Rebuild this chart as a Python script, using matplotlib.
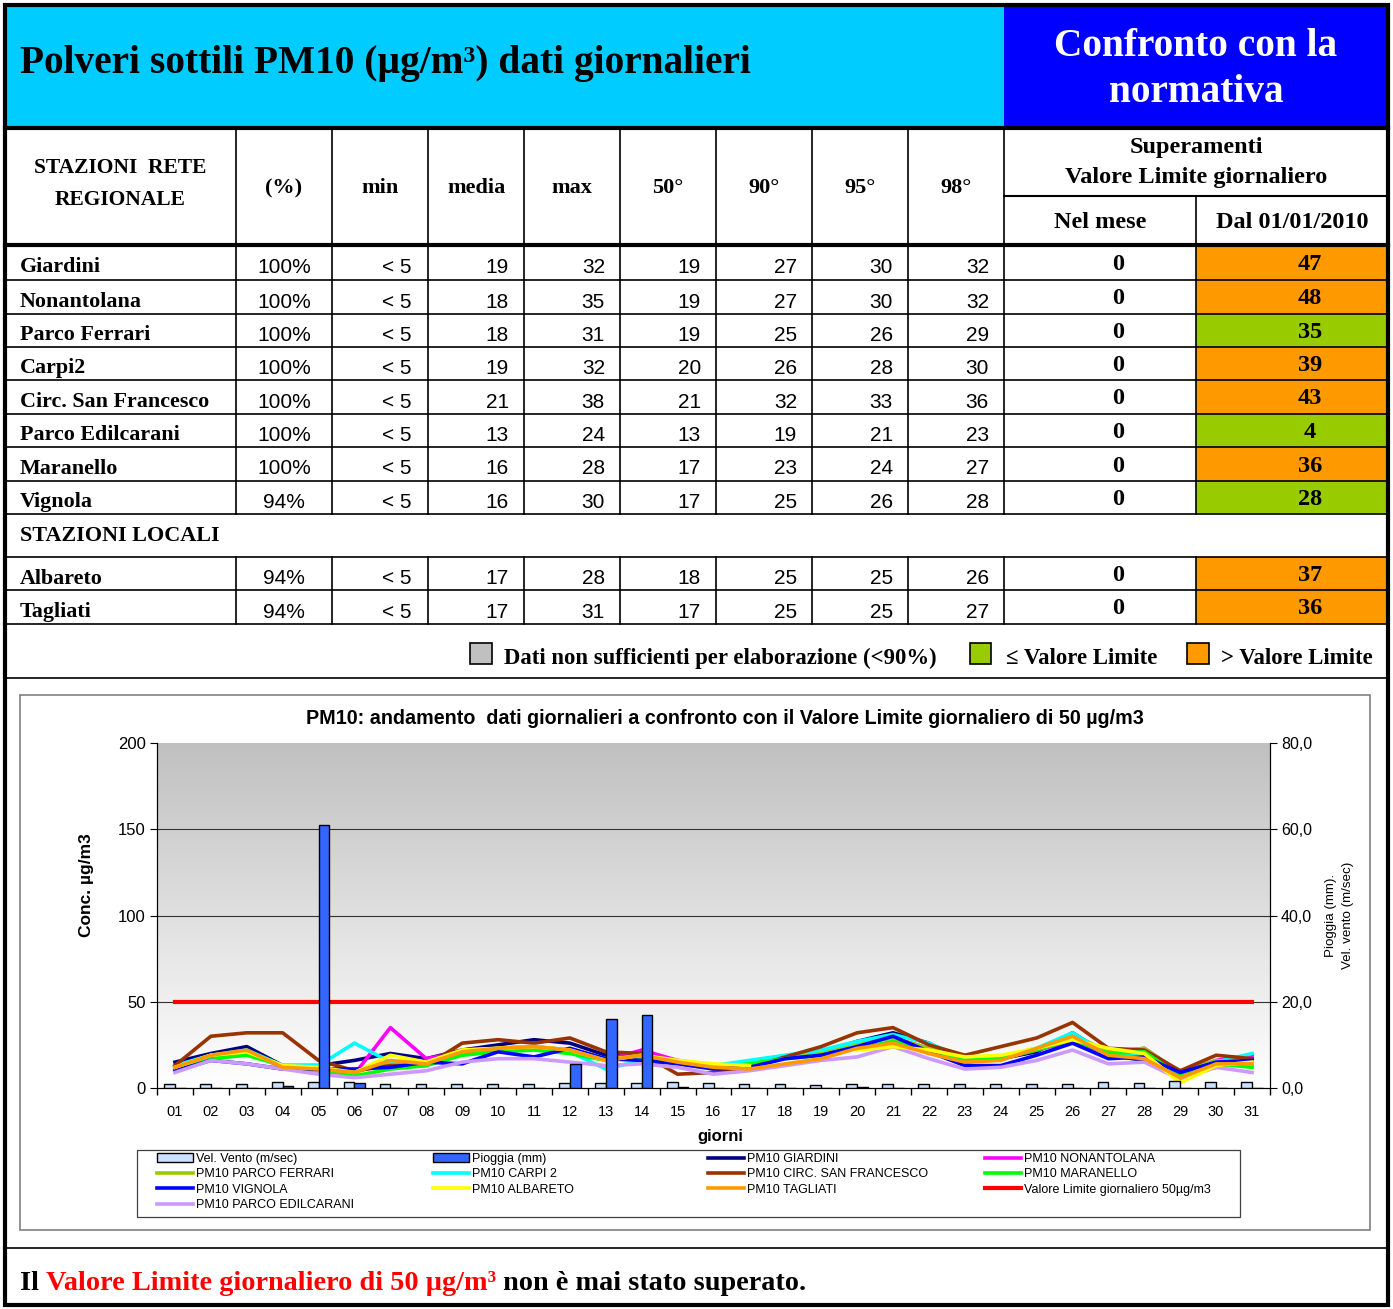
import numpy as np
import matplotlib
matplotlib.use('Agg')
import matplotlib.pyplot as plt
from matplotlib.patches import Rectangle, Patch
from matplotlib.lines import Line2D
from matplotlib.colors import LinearSegmentedColormap

W, H = 1393, 1309
SERIF = ['Liberation Serif', 'DejaVu Serif']
SANS = ['Liberation Sans', 'DejaVu Sans']
plt.rcParams['font.family'] = SANS

# ---------------- table data ----------------
stations_regional = ['Giardini', 'Nonantolana', 'Parco Ferrari', 'Carpi2',
                     'Circ. San Francesco', 'Parco Edilcarani', 'Maranello', 'Vignola']
stations_local = ['Albareto', 'Tagliati']
pct = ['100%', '100%', '100%', '100%', '100%', '100%', '100%', '94%', '94%', '94%']
min_v = ['< 5', '< 5', '< 5', '< 5', '< 5', '< 5', '< 5', '< 5', '< 5', '< 5']
media = [19, 18, 18, 19, 21, 13, 16, 16, 17, 17]
max_v = [32, 35, 31, 32, 38, 24, 28, 30, 28, 31]
p50 = [19, 19, 19, 20, 21, 13, 17, 17, 18, 17]
p90 = [27, 27, 25, 26, 32, 19, 23, 25, 25, 25]
p95 = [30, 30, 26, 28, 33, 21, 24, 26, 25, 25]
p98 = [32, 32, 29, 30, 36, 23, 27, 28, 26, 27]
nel_mese = [0, 0, 0, 0, 0, 0, 0, 0, 0, 0]
dal_2010 = [47, 48, 35, 39, 43, 4, 36, 28, 37, 36]
limit_exceed_allowed = 35
col_headers = ['(%)', 'min', 'media', 'max', '50°', '90°', '95°', '98°']

# ---------------- chart data ----------------
day_labels = ['01', '02', '03', '04', '05', '06', '07', '08', '09', '10', '11', '12', '13', '14', '15',
              '16', '17', '18', '19', '20', '21', '22', '23', '24', '25', '26', '27', '28', '29', '30', '31']
nan = np.nan
giardini = [15, 20, 24, 13, 13, 16, 20, 17, 22, 25, 28, 26, 19, 18, 15, 12, 13, 18, 20, 27, 32, 26, 15, 17, 21, 32, 19, 16, 10, 12, 17]
nonantolana = [12, 18, 21, 12, 10, 8, 35, 17, 21, 23, 24, 22, 16, 22, 16, 13, 14, 18, 21, 27, 29, 23, 16, 17, 22, 27, 20, 23, 9, 16, 19]
parco_ferrari = [12, 18, 21, 13, 11, 9, 15, 14, 22, 23, 24, 22, 17, 18, 15, 13, 15, 18, 21, 26, 29, 23, 17, 18, 23, 31, 21, 23, 9, 16, 14]
carpi2 = [13, 19, 22, 13, 13, 26, 15, 15, 21, 23, 24, 21, 11, 16, 15, 13, 16, 19, 22, 27, 31, 26, 17, 18, 23, 32, 19, 20, 8, 15, 20]
san_francesco = [13, 30, 32, 32, 16, 10, 13, 13, 26, 28, 26, 29, 21, 20, 8, 9, 12, 18, 24, 32, 35, 25, 19, 24, 29, 38, 23, 22, 10, 19, 17]
maranello = [11, 17, 19, 13, 10, 7, 11, 13, 19, 21, 22, 20, 16, 18, 14, 12, 14, 17, 19, 23, 27, 21, 16, 17, 22, 28, 20, 21, 7, 14, 12]
vignola = [10, 16, 14, 11, 11, 11, 12, 15, 14, 21, 18, 23, 17, 16, 14, 11, 12, 17, 19, 24, 30, 21, 13, 13, 19, 26, 17, 18, 9, 15, 16]
albareto = [12, 19, 21, 13, 12, 9, 19, 15, 22, 23, 24, 22, 16, 19, 16, 14, 13, nan, nan, 22, 24, 22, 18, 19, 23, 28, 23, 20, 3, 13, 15]
tagliati = [12, 19, 22, 12, 11, 9, 16, 14, 21, 23, 24, 22, 16, 19, 15, 12, 11, 14, 17, 23, 26, 20, 15, 16, 23, 30, 19, 17, 6, 14, 14]
edilcarani = [9, 16, 14, 11, 8, 6, 8, 10, 15, 17, 17, 15, 13, 14, 12, 8, 10, 13, 16, 18, 24, 17, 11, 12, 16, 22, 14, 15, 5, 12, 9]
limit_value = [50] * 31
wind = [1.0, 1.0, 1.0, 1.3, 1.3, 1.5, 1.0, 1.0, 1.0, 1.0, 1.0, 1.1, 1.2, 1.2, 1.5, 1.1,
        0.9, 0.9, 0.6, 1.0, 0.9, 0.9, 0.9, 0.9, 0.9, 1.0, 1.4, 1.2, 1.7, 1.3, 1.5]
rain = [0, 0, 0, 0.5, 61, 1.2, 0, 0, 0, 0, 0, 5.5, 16, 17, 0.3, 0, 0, 0, 0, 0.3,
        0, 0, 0, 0, 0, 0, 0, 0, 0, 0, 0]

series = [
    ('PM10 GIARDINI', giardini, '#000080'),
    ('PM10 NONANTOLANA', nonantolana, '#FF00FF'),
    ('PM10 PARCO FERRARI', parco_ferrari, '#99CC00'),
    ('PM10 CARPI 2', carpi2, '#00FFFF'),
    ('PM10 CIRC. SAN FRANCESCO', san_francesco, '#993300'),
    ('PM10 MARANELLO', maranello, '#00FF00'),
    ('PM10 VIGNOLA', vignola, '#0000FF'),
    ('PM10 PARCO EDILCARANI', edilcarani, '#CC99FF'),
    ('PM10 ALBARETO', albareto, '#FFFF00'),
    ('PM10 TAGLIATI', tagliati, '#FF9900'),
]

fig = plt.figure(figsize=(W / 100, H / 100), dpi=100)
bg = fig.add_axes([0, 0, 1, 1])
bg.set_xlim(0, W)
bg.set_ylim(H, 0)
bg.axis('off')


def rect(x0, y0, x1, y1, fc, ec='none', lw=0, z=1):
    bg.add_patch(Rectangle((x0, y0), x1 - x0, y1 - y0, facecolor=fc, edgecolor=ec, linewidth=lw, zorder=z))


def hline(y, x0, x1, lw=1.2):
    bg.plot([x0, x1], [y, y], color='black', lw=lw, solid_capstyle='projecting', zorder=4)


def vline(x, y0, y1, lw=1.2):
    bg.plot([x, x], [y0, y1], color='black', lw=lw, solid_capstyle='projecting', zorder=4)


def txt(x, y, s, size, ha='center', va='center', color='black', weight='bold', family=SERIF):
    return bg.text(x, y, s, fontsize=size, ha=ha, va=va, color=color, fontweight=weight, family=family, zorder=5)


# header
rect(5, 5, 1004, 128, '#00CCFF')
rect(1004, 5, 1388, 128, '#0000FF')
txt(20, 63, 'Polveri sottili PM10 (µg/m³) dati giornalieri', 28.4, ha='left')
txt(1196, 47, 'Confronto con la', 28.4, color='white')
txt(1196, 92, 'normativa', 28.4, color='white')

col_x = [5, 236, 332, 428, 524, 620, 716, 812, 908, 1004, 1196, 1388]
hline(128, 5, 1388, 3)
hline(245, 5, 1388, 3)
hline(196, 1004, 1388, 1.5)

txt(120, 168, 'STAZIONI  RETE', 15.5)
txt(120, 200, 'REGIONALE', 15.5)
for i, h in enumerate(col_headers):
    txt((col_x[i + 1] + col_x[i + 2]) / 2, 188, h, 16)
txt(1196, 148, 'Superamenti', 17.5)
txt(1196, 177, 'Valore Limite giornaliero', 17.5)
txt(1100, 222, 'Nel mese', 17.5)
txt(1292, 222, 'Dal 01/01/2010', 17.5)

row_bounds_reg = [245, 280, 314, 347, 380, 414, 447, 481, 514]
row_bounds_loc = [557, 590, 624]


def draw_row(i, name, y0, y1):
    yc = (y0 + y1) / 2 + 5
    txt(20, yc, name, 15.8, ha='left')
    txt(284, yc, pct[i], 15, family=SANS, weight='normal')
    txt(412, yc, min_v[i], 15, ha='right', family=SANS, weight='normal')
    vals = [media[i], max_v[i], p50[i], p90[i], p95[i], p98[i]]
    for k, v in enumerate(vals):
        txt(col_x[k + 4] - 15, yc, str(v), 15, ha='right', family=SANS, weight='normal')
    txt(1118, yc - 3, str(nel_mese[i]), 17.5)
    fc = '#99CC00' if dal_2010[i] <= limit_exceed_allowed else '#FF9900'
    rect(1196, y0, 1388, y1, fc)
    txt(1310, yc - 3, str(dal_2010[i]), 17.5)


for i, name in enumerate(stations_regional):
    draw_row(i, name, row_bounds_reg[i], row_bounds_reg[i + 1])
for j, name in enumerate(stations_local):
    draw_row(8 + j, name, row_bounds_loc[j], row_bounds_loc[j + 1])

for y in row_bounds_reg[1:]:
    hline(y, 5, 1388)
for y in row_bounds_loc:
    hline(y, 5, 1388)
for x in col_x[1:-1]:
    vline(x, 196 if x == 1196 else 128, 514)
    vline(x, 557, 624)
txt(20, 536, 'STAZIONI LOCALI', 15.9, ha='left')

# legend row
rect(470, 643, 492, 664, '#C0C0C0', ec='black', lw=1.2, z=5)
txt(504, 658, 'Dati non sufficienti per elaborazione (<90%)', 16.4, ha='left')
rect(970, 643, 991, 664, '#99CC00', ec='black', lw=1.2, z=5)
txt(1006, 658, '≤ Valore Limite', 16.4, ha='left')
rect(1187, 643, 1209, 664, '#FF9900', ec='black', lw=1.2, z=5)
txt(1221, 658, '> Valore Limite', 16.4, ha='left')
hline(678, 5, 1388)

# chart frame
rect(20, 695, 1370, 1230, 'white', ec='#808080', lw=1.2, z=1)
# chart legend frame
rect(137, 1150, 1240, 1217, 'white', ec='#404040', lw=0.9, z=2)
hline(1248, 5, 1388)

# bottom sentence (multi-colour)
fig.canvas.draw()
renderer = fig.canvas.get_renderer()
xpos = 20
for part, col in [('Il ', 'black'), ('Valore Limite giornaliero di 50 µg/m³', 'red'), (' non è mai stato superato.', 'black')]:
    t = txt(xpos, 1283, part, 20.3, ha='left', color=col)
    bb = t.get_window_extent(renderer=renderer)
    xpos += bb.width

# outer border
bg.add_patch(Rectangle((5, 5), 1383, 1300, facecolor='none', edgecolor='black', linewidth=3, zorder=6))

# ---------------- chart ----------------
ax = fig.add_axes([157 / W, 1 - 1088 / H, 1113 / W, 345 / H])
days = np.arange(1, 32)
grad = np.linspace(1, 0, 256).reshape(-1, 1)
cmap = LinearSegmentedColormap.from_list('g', ['#ffffff', '#c0c0c0'])
ax.imshow(grad, extent=[0.5, 31.5, 0, 200], aspect='auto', cmap=cmap, origin='upper', zorder=0)
ax.set_xlim(0.5, 31.5)
ax.set_ylim(0, 200)
for y in [50, 100, 150]:
    ax.axhline(y, color='#333333', lw=0.8, zorder=1)

handles = {}
for label, vals, col in series:
    ln, = ax.plot(days, vals, color=col, lw=2.6, zorder=3, label=label)
    handles[label] = ln
lim_ln, = ax.plot(days, limit_value, color='#FF0000', lw=3, zorder=4)

ax.set_xticks(np.arange(0.5, 32, 1))
ax.set_xticklabels([])
ax.tick_params(axis='x', which='major', length=5, direction='out', width=1)
ax.set_xticks(days, minor=True)
ax.set_xticklabels(day_labels, minor=True, fontsize=10.5)
ax.tick_params(axis='x', which='minor', length=0, pad=12)
ax.set_yticks([0, 50, 100, 150, 200])
ax.tick_params(axis='y', length=5, direction='out', labelsize=12, pad=3)
ax.spines['top'].set_visible(False)
ax.set_ylabel('Conc. µg/m3', fontweight='bold', fontsize=12.5)
ax.yaxis.set_label_coords(-0.057, 0.588)

ax2 = ax.twinx()
ax2.set_ylim(0, 80)
bw = 0.3
ax2.bar(days - bw / 2, wind, width=bw, color='#CCE0FF', edgecolor='black', linewidth=1, zorder=3)
ax2.bar(days + bw / 2, rain, width=bw, color='#3366FF', edgecolor='black', linewidth=1, zorder=3)
ax2.set_yticks([0, 20, 40, 60, 80])
ax2.set_yticklabels(['0,0', '20,0', '40,0', '60,0', '80,0'])
ax2.tick_params(axis='y', length=5, direction='out', labelsize=11.5, pad=3)
ax2.spines['top'].set_visible(False)
ax2.set_ylabel('Pioggia (mm).\nVel. vento (m/sec)', fontsize=9.6, linespacing=1.6)
ax2.yaxis.set_label_coords(1.049, 0.5)
ax2.set_xlim(0.5, 31.5)

fig.text(725 / W, 1 - 719 / H,
         'PM10: andamento  dati giornalieri a confronto con il Valore Limite giornaliero di 50 µg/m3',
         ha='center', va='center', fontsize=14.2, fontweight='bold')
fig.text(720 / W, 1 - 1136 / H, 'giorni', ha='center', va='center', fontsize=12, fontweight='bold')

h_wind = Patch(facecolor='#CCE0FF', edgecolor='black', linewidth=1)
h_rain = Patch(facecolor='#3366FF', edgecolor='black', linewidth=1)
legend_cols = [
    (157, [(h_wind, 'Vel. Vento (m/sec)'),
           (handles['PM10 PARCO FERRARI'], 'PM10 PARCO FERRARI'),
           (handles['PM10 VIGNOLA'], 'PM10 VIGNOLA'),
           (handles['PM10 PARCO EDILCARANI'], 'PM10 PARCO EDILCARANI')]),
    (433, [(h_rain, 'Pioggia (mm)'),
           (handles['PM10 CARPI 2'], 'PM10 CARPI 2'),
           (handles['PM10 ALBARETO'], 'PM10 ALBARETO')]),
    (708, [(handles['PM10 GIARDINI'], 'PM10 GIARDINI'),
           (handles['PM10 CIRC. SAN FRANCESCO'], 'PM10 CIRC. SAN FRANCESCO'),
           (handles['PM10 TAGLIATI'], 'PM10 TAGLIATI')]),
    (985, [(handles['PM10 NONANTOLANA'], 'PM10 NONANTOLANA'),
           (handles['PM10 MARANELLO'], 'PM10 MARANELLO'),
           (lim_ln, 'Valore Limite giornaliero 50µg/m3')]),
]
for x0, items in legend_cols:
    fig.legend([it[0] for it in items], [it[1] for it in items], loc='upper left',
               bbox_to_anchor=(x0 / W, 1 - 1153 / H), frameon=False, fontsize=9,
               handlelength=2.9, handletextpad=0.25, borderpad=0, labelspacing=0.27,
               borderaxespad=0, handleheight=0.7)

fig.savefig('out.png', dpi=100)
